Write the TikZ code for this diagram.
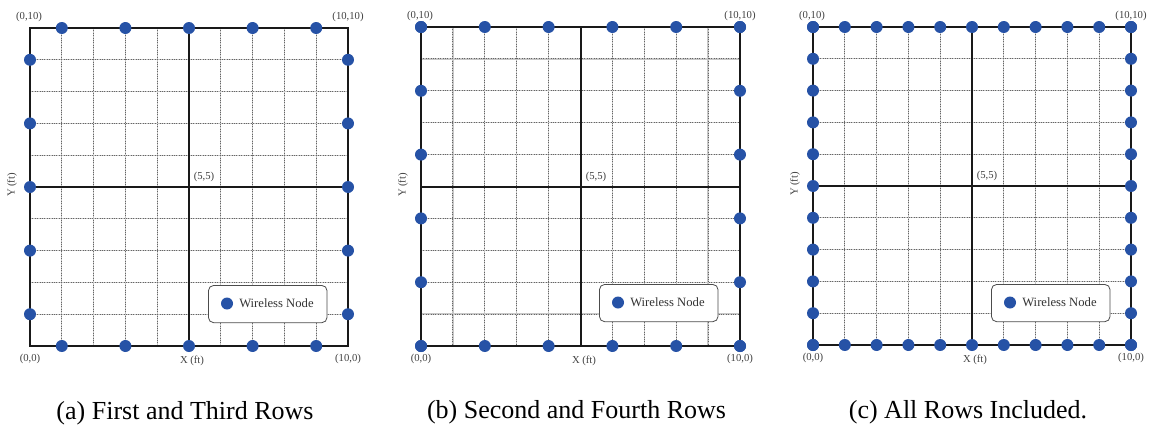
\documentclass[tikz,border=0pt]{standalone}
\usepackage{fontspec}
\setmainfont{Liberation Serif}
\definecolor{nodeblue}{RGB}{38,82,166}
\tikzset{
  gridbase/.style={black!22, line width=1pt},
  gridline/.style={black!60, line width=0.8pt, densely dotted},
  frameline/.style={black!90, line width=1.5pt},
  axisline/.style={black!90, line width=1.2pt},
  wnode/.style={circle, fill=nodeblue, draw=none, inner sep=0pt, minimum size=9pt},
  lbl/.style={font=\fontsize{8}{9}\selectfont, text=black!75, inner sep=0pt},
  legendbox/.style={draw=black!70, fill=white, rounded corners=4pt, line width=0.6pt},
  legtext/.style={font=\fontsize{9.5}{11}\selectfont, text=black!80, inner sep=0pt, anchor=west},
  captext/.style={font=\fontsize{19.5}{23}\selectfont, inner sep=0pt}
}
\newcommand{\mypanel}[6]{%
  \begin{scope}[shift={(#2,#3)}]
    \pgfmathsetmacro{\sz}{#4}
    \pgfmathsetmacro{\s}{#4/10}
    \pgfmathsetmacro{\hc}{floor(#4/2+0.5)}
    \foreach \k in {1,...,9}{
      \draw[gridbase] (\k*\s,0) -- (\k*\s,\sz);
      \draw[gridbase] (0,\k*\s) -- (\sz,\k*\s);
      \draw[gridline] (\k*\s,0) -- (\k*\s,\sz);
      \draw[gridline] (0,\k*\s) -- (\sz,\k*\s);
    }
    \coordinate (#1-tl) at (0,0);
    \coordinate (#1-tr) at (\sz,0);
    \coordinate (#1-bl) at (0,\sz);
    \coordinate (#1-br) at (\sz,\sz);
    \coordinate (#1-c) at (\hc,\hc);
    \coordinate (#1-top) at (\hc,0);
    \coordinate (#1-bot) at (\hc,\sz);
    \coordinate (#1-lft) at (0,\hc);
    \coordinate (#1-rgt) at (\sz,\hc);
    \draw[axisline] (#1-top) -- (#1-bot);
    \draw[axisline] (#1-lft) -- (#1-rgt);
    \draw[frameline] (#1-tl) -- (#1-tr) -- (#1-br) -- (#1-bl) -- cycle;
    \node[legendbox, minimum width=89pt, minimum height=28pt, anchor=north west] (#1-leg) at (178,257) {};
    \node[wnode] (#1-legdot) at (197,275.5) {};
    \node[legtext] (#1-legtxt) at (209,275.5) {Wireless Node};
    \foreach \k in {#5}{
      \node[wnode] (#1-t\k) at (\k*\s,0) {};
      \node[wnode] (#1-b\k) at (\k*\s,\sz) {};
      \node[wnode] (#1-l\k) at (0,\sz-\k*\s) {};
      \node[wnode] (#1-r\k) at (\sz,\sz-\k*\s) {};
    }
    \node[lbl] (#1-ltl) at (-1,-11) {(0,10)};
    \node[lbl] (#1-ltr) at (\sz,-11) {(10,10)};
    \node[lbl] (#1-lbl) at (0,\sz+12.5) {(0,0)};
    \node[lbl] (#1-lbr) at (\sz,\sz+12.5) {(10,0)};
    \node[lbl] (#1-lc) at (\hc+15,\hc-10) {(5,5)};
    \node[lbl] (#1-lx) at (\hc+3,\sz+15) {X (ft)};
    \node[lbl, rotate=90] (#1-ly) at (-18,\hc-2) {Y (ft)};
    \node[captext] (#1-cap) at (\sz/2-4,385) {#6};
  \end{scope}
}
\begin{document}
\begin{tikzpicture}[x=0.75pt,y=-0.75pt]
  \useasboundingbox (0,0) rectangle (1152,432);
  \mypanel{pa}{30}{28}{318}{1,3,5,7,9}{(a) First and Third Rows}
  \mypanel{pb}{421}{27}{319}{0,2,4,6,8,10}{(b) Second and Fourth Rows}
  \mypanel{pc}{813}{27}{318}{0,1,2,3,4,5,6,7,8,9,10}{(c) All Rows Included.}
\end{tikzpicture}
\end{document}
